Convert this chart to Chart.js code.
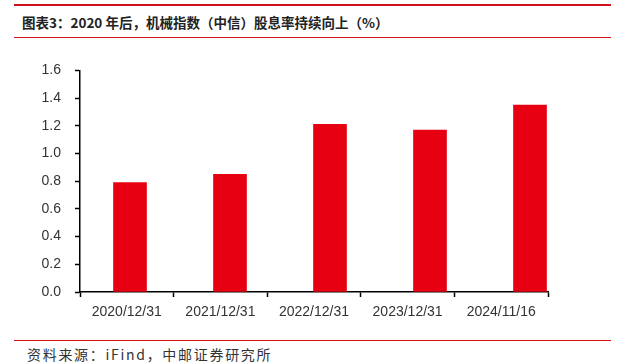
<!DOCTYPE html>
<html lang="zh">
  <head>
    <meta charset="UTF-8" />
    <title>机械指数股息率</title>
    <script src="https://cdn.jsdelivr.net/npm/chart.js"></script>
    <style>
      body { margin: 0; width: 617px; height: 364px; background: #fff; position: relative; overflow: hidden; }
      .rule { position: absolute; left: 14px; width: 597px; background: #d0111b; }
      .title { position: absolute; left: 22px; top: 12px; font: bold 13.5px "Noto Sans CJK SC", sans-serif; color: #222; }
      .source { position: absolute; left: 27px; top: 344px; font: 14px "Noto Sans CJK SC", sans-serif; letter-spacing: 1.7px; color: #333; }
      .wrap { position: absolute; left: 0; top: 48px; width: 560px; height: 272px; }
    </style>
  </head>
  <body>
    <div class="rule" style="top: 4px; height: 2px"></div>
    <div class="title">图表3：2020 年后，机械指数（中信）股息率持续向上（%）</div>
    <div class="rule" style="top: 37px; height: 1px"></div>
    <div class="wrap"><canvas id="chart"></canvas></div>
    <div class="rule" style="top: 340px; height: 1px"></div>
    <div class="source">资料来源：iFind，中邮证券研究所</div>

    <script>
      const categories = ["2020/12/31", "2021/12/31", "2022/12/31", "2023/12/31", "2024/11/16"];
      const yieldValues = [0.79, 0.85, 1.21, 1.17, 1.35];
      const yTicks = [0, 0.2, 0.4, 0.6, 0.8, 1.0, 1.2, 1.4, 1.6];

      const tickFont = { family: "Liberation Sans", size: 14 };

      new Chart(document.getElementById("chart"), {
        type: "bar",
        data: {
          labels: categories,
          datasets: [
            {
              data: yieldValues.map((v, i) => ({ x: i, y: v })),
              backgroundColor: "#e60012",
              barThickness: 33,
              xAxisID: "xb",
            },
          ],
        },
        options: {
          responsive: true,
          maintainAspectRatio: false,
          animation: false,
          layout: { padding: { top: 8, right: 12, left: 0, bottom: 0 } },
          plugins: { legend: { display: false }, tooltip: { enabled: false } },
          scales: {
            x: {
              type: "category",
              labels: categories,
              offset: true,
              border: { color: "#000", width: 1.5 },
              grid: {
                offset: true,
                drawOnChartArea: false,
                drawTicks: true,
                tickLength: 5,
                tickColor: "#000",
                tickWidth: 1.5,
              },
              ticks: { color: "#333", font: tickFont, padding: 7, maxRotation: 0 },
              afterFit: (s) => { s.height = 28; },
            },
            xb: {
              type: "linear",
              display: false,
              offset: false,
              min: -0.5,
              max: 4.18,
            },
            y: {
              min: 0,
              max: 1.6,
              afterBuildTicks: (s) => { s.ticks = yTicks.map((v) => ({ value: v })); },
              border: { color: "#000", width: 1.5 },
              grid: {
                drawOnChartArea: false,
                drawTicks: true,
                tickLength: 5,
                tickColor: "#000",
                tickWidth: 1.5,
              },
              ticks: {
                color: "#333",
                font: tickFont,
                padding: 14,
                callback: (v) => Number(v).toFixed(1),
              },
              afterFit: (s) => { s.width = 80; },
            },
          },
        },
      });
    </script>
  </body>
</html>
